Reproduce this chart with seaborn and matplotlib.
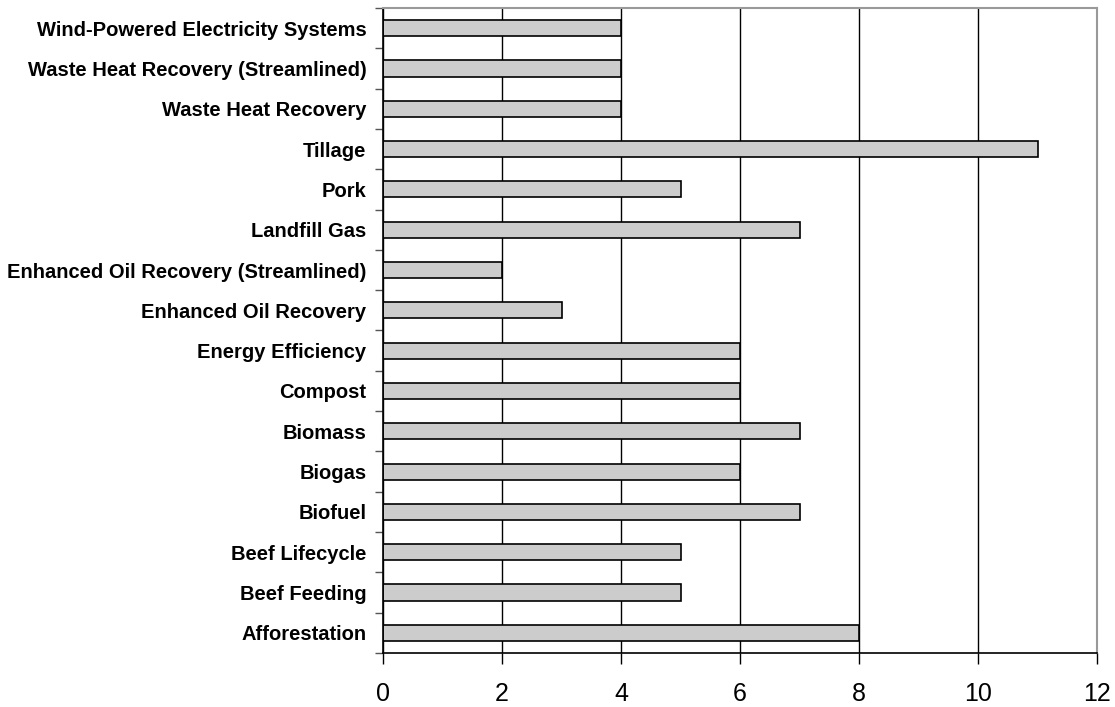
import matplotlib
matplotlib.use("Agg")
import matplotlib.pyplot as plt
import seaborn as sns
import pandas as pd
import numpy as np

categories = [
    "Wind-Powered Electricity Systems",
    "Waste Heat Recovery (Streamlined)",
    "Waste Heat Recovery",
    "Tillage",
    "Pork",
    "Landfill Gas",
    "Enhanced Oil Recovery (Streamlined)",
    "Enhanced Oil Recovery",
    "Energy Efficiency",
    "Compost",
    "Biomass",
    "Biogas",
    "Biofuel",
    "Beef Lifecycle",
    "Beef Feeding",
    "Afforestation",
]
values = [4, 4, 4, 11, 5, 7, 2, 3, 6, 6, 7, 6, 7, 5, 5, 8]
x_ticks = [0, 2, 4, 6, 8, 10, 12]

df = pd.DataFrame({"category": categories, "value": values})

sns.set_style("white")
plt.rcParams["font.family"] = ["Liberation Sans", "DejaVu Sans"]
plt.rcParams["text.color"] = "black"
plt.rcParams["xtick.color"] = "black"
plt.rcParams["ytick.color"] = "black"
plt.rcParams["xtick.labelcolor"] = "black"
plt.rcParams["ytick.labelcolor"] = "black"

fig = plt.figure(figsize=(11.15, 7.07), dpi=100)
ax = fig.add_axes([0.3435, 0.0764, 0.6404, 0.9123])

sns.barplot(data=df, y="category", x="value", order=categories, orient="h",
            color="#cccccc", edgecolor="black", linewidth=1.2, width=0.4,
            saturation=1, ax=ax)

n = len(categories)
ax.set_xlim(0, 12)
ax.set_ylim(n - 0.5, -0.5)
ax.set_xticks(x_ticks)
ax.set_xticklabels([str(t) for t in x_ticks], fontsize=18, color="black")
ax.tick_params(axis="x", direction="out", length=8, width=1, color="black",
               bottom=True, pad=13)

# category labels, with separators drawn as minor ticks
ax.set_yticks(np.arange(n))
ax.set_yticklabels(categories, fontsize=14.5, fontweight="bold", color="black")
ax.tick_params(axis="y", which="major", length=0, pad=12)
ax.set_yticks(np.arange(-0.5, n, 1.0), minor=True)
ax.tick_params(axis="y", which="minor", direction="out", length=6, width=1,
               color="#555555", left=True)

ax.xaxis.grid(True, color="black", linewidth=1)
ax.yaxis.grid(False)
ax.set_axisbelow(True)

for side in ["left", "bottom"]:
    ax.spines[side].set_color("black")
    ax.spines[side].set_linewidth(1.2)
for side in ["top", "right"]:
    ax.spines[side].set_visible(True)
    ax.spines[side].set_color("#999999")
    ax.spines[side].set_linewidth(1.5)

ax.set_xlabel("")
ax.set_ylabel("")

fig.savefig("out.png", dpi=100)
